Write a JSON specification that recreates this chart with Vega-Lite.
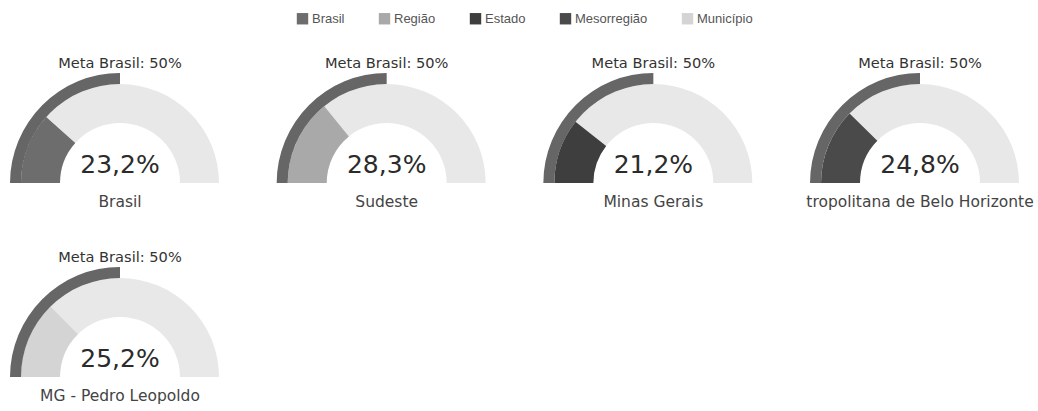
{
  "$schema": "https://vega.github.io/schema/vega-lite/v6.json",
  "padding": {"left": 0, "top": 12, "right": 0, "bottom": 0},
  "background": "white",
  "data": {"values": [
    {"nome": "Brasil", "nivel": "Brasil", "base": 0, "total": 100, "valor": 23.2, "valor_texto": "23,2%", "meta": 50, "meta_texto": "Meta Brasil: 50%"},
    {"nome": "Sudeste", "nivel": "Região", "base": 0, "total": 100, "valor": 28.3, "valor_texto": "28,3%", "meta": 50, "meta_texto": "Meta Brasil: 50%"},
    {"nome": "Minas Gerais", "nivel": "Estado", "base": 0, "total": 100, "valor": 21.2, "valor_texto": "21,2%", "meta": 50, "meta_texto": "Meta Brasil: 50%"},
    {"nome": "tropolitana de Belo Horizonte", "nivel": "Mesorregião", "base": 0, "total": 100, "valor": 24.8, "valor_texto": "24,8%", "meta": 50, "meta_texto": "Meta Brasil: 50%"},
    {"nome": "MG - Pedro Leopoldo", "nivel": "Município", "base": 0, "total": 100, "valor": 25.2, "valor_texto": "25,2%", "meta": 50, "meta_texto": "Meta Brasil: 50%"}
  ]},
  "facet": {
    "field": "nome",
    "type": "nominal",
    "sort": ["Brasil", "Sudeste", "Minas Gerais", "tropolitana de Belo Horizonte", "MG - Pedro Leopoldo"],
    "header": {"title": null, "labels": false, "labelExpr": "''", "labelFontSize": 0, "labelPadding": 0}
  },
  "columns": 4,
  "spacing": {"column": 26.67, "row": 0},
  "bounds": "flush",
  "spec": {
    "width": 240,
    "height": 194,
    "layer": [
      {
        "mark": {"type": "arc", "radius": 99, "radius2": 60, "color": "#e8e8e8"},
        "encoding": {
          "theta": {"field": "base", "type": "quantitative", "stack": null, "scale": {"domain": [0, 100], "range": [-1.5707963, 1.5707963]}},
          "theta2": {"field": "total"}
        }
      },
      {
        "mark": {"type": "arc", "radius": 99, "radius2": 60},
        "encoding": {
          "theta": {"field": "base", "type": "quantitative", "stack": null},
          "theta2": {"field": "valor"},
          "color": {
            "field": "nivel",
            "type": "nominal",
            "scale": {
              "domain": ["Brasil", "Região", "Estado", "Mesorregião", "Município"],
              "range": ["#6d6d6d", "#a9a9a9", "#3e3e3e", "#4a4a4a", "#d4d4d4"]
            },
            "legend": {
              "orient": "none",
              "legendX": 296,
              "legendY": -74,
              "direction": "horizontal",
              "title": null,
              "symbolType": "square",
              "symbolSize": 130,
              "symbolOpacity": 1,
              "symbolStrokeWidth": 0,
              "labelFont": "Liberation Sans",
              "labelFontSize": 13,
              "labelColor": "#555555",
              "labelOffset": 3,
              "columnPadding": 33
            }
          }
        }
      },
      {
        "mark": {"type": "arc", "radius": 110, "radius2": 99, "color": "#666666"},
        "encoding": {
          "theta": {"field": "base", "type": "quantitative", "stack": null},
          "theta2": {"field": "meta"}
        }
      },
      {
        "mark": {"type": "text", "dy": -115, "baseline": "alphabetic", "align": "center", "font": "DejaVu Sans", "fontSize": 14.6, "color": "#333333"},
        "encoding": {"text": {"field": "meta_texto"}}
      },
      {
        "mark": {"type": "text", "dy": -10, "baseline": "alphabetic", "align": "center", "font": "DejaVu Sans", "fontSize": 25, "color": "#2b2b2b"},
        "encoding": {"text": {"field": "valor_texto"}}
      },
      {
        "mark": {"type": "text", "dy": 24, "baseline": "alphabetic", "align": "center", "font": "DejaVu Sans", "fontSize": 15.5, "color": "#444444"},
        "encoding": {"text": {"field": "nome"}}
      }
    ]
  },
  "config": {"view": {"stroke": null}}
}
